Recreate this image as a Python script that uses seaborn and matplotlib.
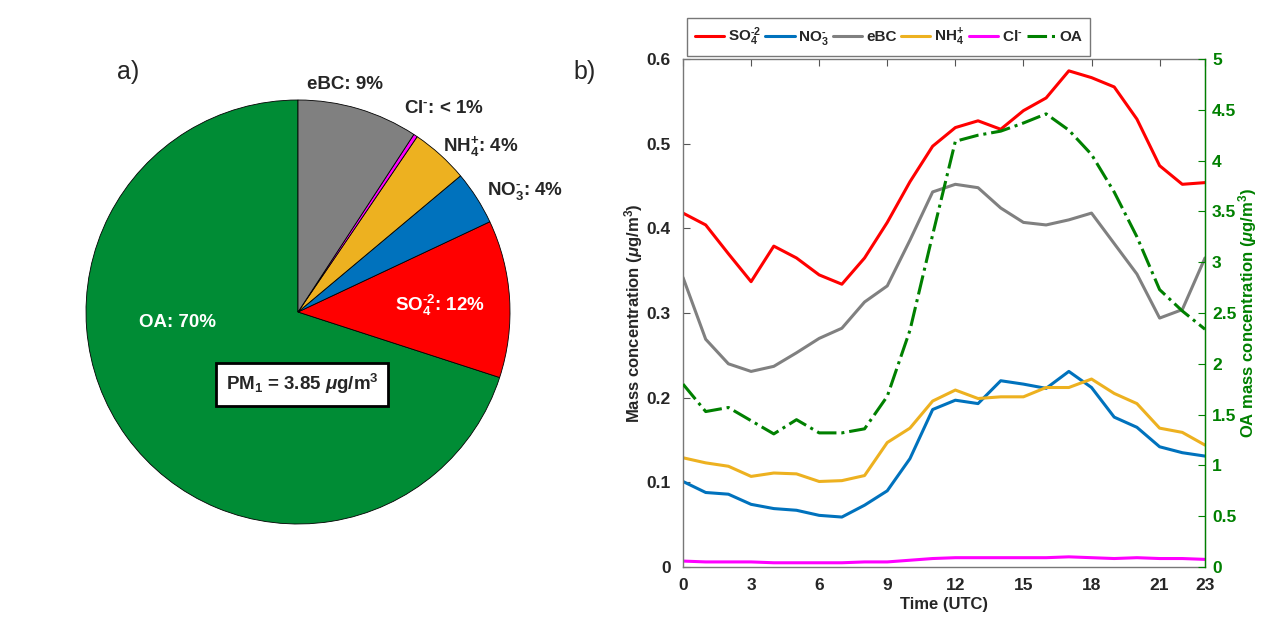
import numpy as np
import matplotlib.pyplot as plt
import seaborn as sns
import pandas as pd

# ---- data ----
species = ["OA", "SO4", "NO3", "NH4", "Cl", "eBC"]
pie_share = [70.0, 12.0, 4.1, 4.4, 0.3, 9.2]
pie_colors = ["#008C35", "#FF0000", "#0072BD", "#EDB120", "#FF00FF", "#808080"]

hours = list(range(24))
so4 = [0.418, 0.404, 0.370, 0.337, 0.379, 0.365, 0.345, 0.334, 0.365, 0.407, 0.455, 0.497,
       0.519, 0.527, 0.517, 0.539, 0.554, 0.586, 0.578, 0.567, 0.529, 0.474, 0.452, 0.454]
no3 = [0.101, 0.088, 0.086, 0.074, 0.069, 0.067, 0.061, 0.059, 0.073, 0.090, 0.128, 0.186,
       0.197, 0.193, 0.220, 0.216, 0.211, 0.231, 0.212, 0.177, 0.165, 0.142, 0.135, 0.131]
ebc = [0.342, 0.269, 0.240, 0.231, 0.237, 0.253, 0.270, 0.282, 0.313, 0.332, 0.386, 0.443,
       0.452, 0.448, 0.424, 0.407, 0.404, 0.410, 0.418, 0.382, 0.346, 0.294, 0.304, 0.365]
nh4 = [0.129, 0.123, 0.119, 0.107, 0.111, 0.110, 0.101, 0.102, 0.108, 0.147, 0.164, 0.196,
       0.209, 0.199, 0.201, 0.201, 0.212, 0.212, 0.222, 0.205, 0.193, 0.164, 0.159, 0.144]
cl = [0.007, 0.006, 0.006, 0.006, 0.005, 0.005, 0.005, 0.005, 0.006, 0.006, 0.008, 0.010,
      0.011, 0.011, 0.011, 0.011, 0.011, 0.012, 0.011, 0.010, 0.011, 0.010, 0.010, 0.009]
oa = [1.80, 1.53, 1.57, 1.44, 1.31, 1.45, 1.32, 1.32, 1.36, 1.68, 2.33, 3.27,
      4.19, 4.25, 4.29, 4.37, 4.46, 4.30, 4.06, 3.69, 3.25, 2.73, 2.52, 2.34]

line_names = [r"SO$_4^{\text{-2}}$", r"NO$_3^{\text{-}}$", "eBC", r"NH$_4^{+}$", r"Cl$^{\text{-}}$"]
line_colors = ["#FF0000", "#0072BD", "#808080", "#EDB120", "#FF00FF"]
oa_color = "#008000"

sns.set_style("white")
plt.rcParams["font.family"] = ["Liberation Sans", "DejaVu Sans"]
plt.rcParams["font.weight"] = "bold"
plt.rcParams["mathtext.fontset"] = "custom"
plt.rcParams["mathtext.rm"] = "Liberation Sans:bold"
plt.rcParams["mathtext.it"] = "Liberation Sans:italic:bold"
plt.rcParams["mathtext.bf"] = "Liberation Sans:bold"

fig = plt.figure(figsize=(12.64, 6.19), dpi=100)

# -------------------------
# a) pie chart
# -------------------------
ax1 = fig.add_axes([86 / 1264, (619 - 524) / 619, 424 / 1264, 424 / 619])
ax1.pie(pie_share, colors=pie_colors, startangle=90, counterclock=True,
        wedgeprops=dict(edgecolor="black", linewidth=0.6))
ax1.set_xlim(-1, 1)
ax1.set_ylim(-1, 1)
ax1.set_aspect("equal")

fs = 13.5
ax1.text(0.22, 1.075, "eBC: 9%", fontsize=fs, fontweight="bold", ha="center", va="center")
ax1.text(0.69, 0.96, r"Cl$^{\text{-}}$: < 1%", fontsize=fs, fontweight="bold", ha="center", va="center")
ax1.text(0.86, 0.78, r"NH$_4^{+}$: 4%", fontsize=fs, fontweight="bold", ha="center", va="center")
ax1.text(1.07, 0.57, r"NO$_3^{\text{-}}$: 4%", fontsize=fs, fontweight="bold", ha="center", va="center")
ax1.text(0.67, 0.03, r"SO$_4^{\text{-2}}$: 12%", fontsize=fs, fontweight="bold", color="white",
         ha="center", va="center")
ax1.text(-0.57, -0.05, "OA: 70%", fontsize=fs, fontweight="bold", color="white",
         ha="center", va="center")
ax1.text(0.02, -0.34, r"PM$_1$ = 3.85 $\mu$g/m$^3$", fontsize=fs, fontweight="bold",
         ha="center", va="center",
         bbox=dict(boxstyle="square,pad=0.5", facecolor="white", edgecolor="black", linewidth=2))
fig.text(128 / 1264, 1 - 72 / 619, "a)", fontsize=18, fontweight="normal", ha="center", va="center")

# -------------------------
# b) diurnal cycles
# -------------------------
ax2 = fig.add_axes([683 / 1264, 52 / 619, 522 / 1264, 508 / 619])
df = pd.DataFrame({"hour": hours, "SO4": so4, "NO3": no3, "eBC": ebc, "NH4": nh4, "Cl": cl})
handles = []
for col, name, c in zip(["SO4", "NO3", "eBC", "NH4", "Cl"], line_names, line_colors):
    sns.lineplot(data=df, x="hour", y=col, ax=ax2, color=c, linewidth=2.2, label=name, legend=False)
    handles.append(ax2.lines[-1])

tick_fs = 12.5
ax2.set_xlim(0, 23)
ax2.set_ylim(0, 0.6)
ax2.set_xticks([0, 3, 6, 9, 12, 15, 18, 21, 23])
ax2.set_yticks([0, 0.1, 0.2, 0.3, 0.4, 0.5, 0.6])
ax2.set_yticklabels(["0", "0.1", "0.2", "0.3", "0.4", "0.5", "0.6"])
ax2.set_xlabel("Time (UTC)", fontsize=12, fontweight="bold", labelpad=3)
ax2.set_ylabel(r"Mass concentration ($\mu$g/m$^3$)", fontsize=12, fontweight="bold", labelpad=1)
ax2.tick_params(axis="both", direction="in", length=5, width=0.8, color="#555555",
                labelsize=tick_fs, top=True, right=False)
ax2.tick_params(axis="x", pad=8)
ax2.tick_params(axis="y", pad=9)
for side in ["left", "bottom", "top"]:
    ax2.spines[side].set_color("#777777")
    ax2.spines[side].set_linewidth(1.0)
for lab in ax2.get_xticklabels() + ax2.get_yticklabels():
    lab.set_fontweight("bold")

ax3 = ax2.twinx()
sns.lineplot(x=hours, y=oa, ax=ax3, color=oa_color, linewidth=2.2, linestyle="-.", label="OA", legend=False)
handles.append(ax3.lines[-1])
ax3.set_ylim(0, 5)
ax3.set_yticks([0, 0.5, 1, 1.5, 2, 2.5, 3, 3.5, 4, 4.5, 5])
ax3.set_yticklabels(["0", "0.5", "1", "1.5", "2", "2.5", "3", "3.5", "4", "4.5", "5"])
ax3.set_ylabel(r"OA mass concentration ($\mu$g/m$^3$)", fontsize=12, fontweight="bold",
               color=oa_color, labelpad=0)
ax3.tick_params(axis="y", direction="in", length=5, width=0.8, colors=oa_color,
                labelsize=tick_fs, pad=5)
ax3.spines["right"].set_color(oa_color)
ax3.spines["right"].set_linewidth(1.0)
for side in ["left", "bottom", "top"]:
    ax3.spines[side].set_visible(False)
for lab in ax3.get_yticklabels():
    lab.set_fontweight("bold")

leg = ax2.legend(handles=handles, labels=line_names + ["OA"], ncol=6, loc="lower left",
                 bbox_to_anchor=(0.008, 1.006), borderaxespad=0, frameon=True, fancybox=False,
                 handlelength=1.9, handletextpad=0.25, columnspacing=0.3,
                 borderpad=0.5, prop=dict(weight="bold", size=11))
leg.get_frame().set_edgecolor("#555555")
leg.get_frame().set_linewidth(1.0)
leg.set_zorder(10)

fig.text(585 / 1264, 1 - 72 / 619, "b)", fontsize=18, fontweight="normal", ha="center", va="center")

fig.savefig("out.png", dpi=100)
